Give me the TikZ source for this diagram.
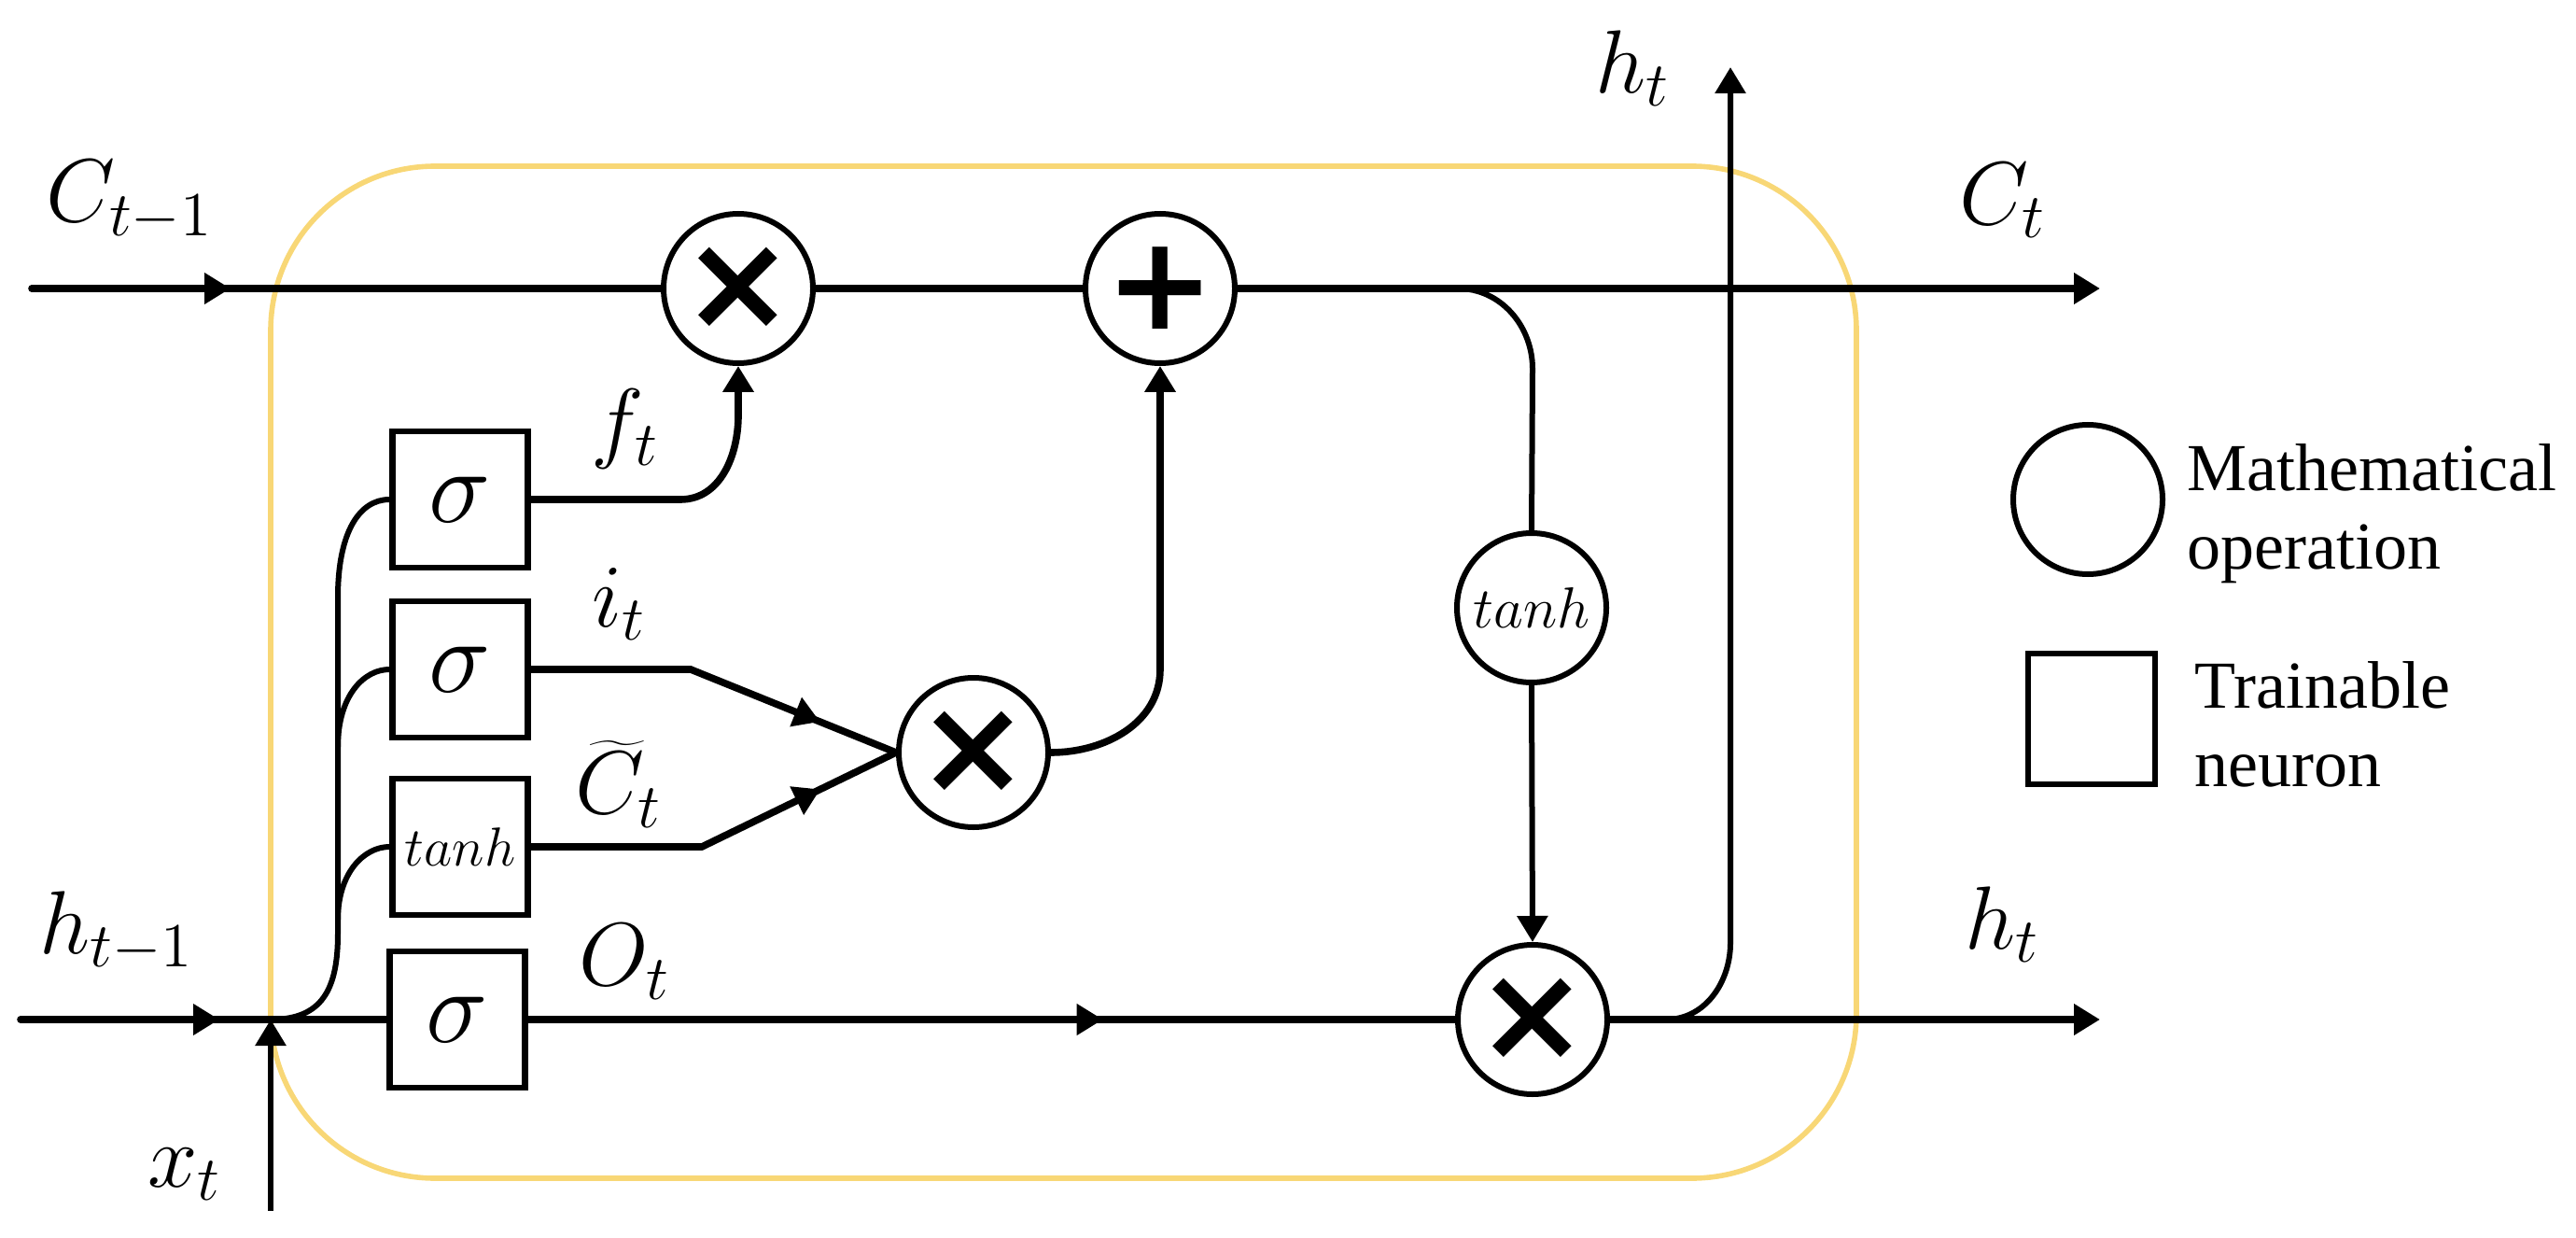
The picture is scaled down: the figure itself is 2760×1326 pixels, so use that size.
\RequirePackage{fix-cm}
\documentclass[tikz,border=0pt]{standalone}
\usepackage{fontspec}
\setmainfont{Liberation Serif}
\newfontfamily\legendserif{Liberation Serif}
\newfontfamily\opglyphfont{DejaVu Sans}
\usetikzlibrary{arrows.meta,decorations.markings}
\definecolor{cellgold}{RGB}{248,215,118}
\newcommand\mulsym{{\opglyphfont\bfseries\fontsize{36}{36}\selectfont ×}}
\newcommand\plussym{{\opglyphfont\bfseries\fontsize{35}{35}\selectfont +}}
\begin{document}
\begin{tikzpicture}[x=0.25pt,y=-0.25pt,
  wire/.style={line width=1.9pt,line cap=round},
  thinwire/.style={line width=1.5pt},
  tip/.style={-{Triangle[length=7pt,width=8pt]}},
  midtip/.style={postaction={decorate},decoration={markings,mark=at position #1 with {\arrow{Triangle[length=7pt,width=8pt]}}}},
  op/.style={circle,draw,line width=1.5pt,minimum size=40pt,inner sep=0pt,fill=white},
  neuron/.style={rectangle,draw,line width=1.6pt,minimum width=36.25pt,minimum height=36.5pt,inner sep=0pt,fill=white},
  lbl/.style={inner sep=0pt,font=\fontsize{24}{28}\selectfont},
  legendtext/.style={inner sep=0pt,anchor=west,align=left,font=\legendserif\fontsize{18}{21}\selectfont},
]
\useasboundingbox (0,0) rectangle (2760,1326);

% cell outline
\node[draw=cellgold,line width=1.4pt,rounded corners=44pt,minimum width=424.75pt,minimum height=271pt,inner sep=0pt] (cell) at (1139.5,720) {};

% operations
\node[op] (mulf) at (791,309) {\mulsym};
\node[op] (plus) at (1243,309) {\plussym};
\node[op] (mulc) at (1043,806) {\mulsym};
\node[op] (tanhc) at (1641,651) {\fontsize{15.5}{17}\selectfont$tanh$};
\node[op] (mulo) at (1642,1092) {\mulsym};

% neurons
\node[neuron,font=\fontsize{28}{30}\selectfont] (bf) at (493,535) {$\sigma$};
\node[neuron,font=\fontsize{28}{30}\selectfont] (bi) at (493,717) {$\sigma$};
\node[neuron,font=\fontsize{14.7}{16}\selectfont] (bc) at (493,907) {$tanh$};
\node[neuron,font=\fontsize{28}{30}\selectfont] (bo) at (490,1092) {$\sigma$};

% legend
\node[op] (legop) at (2237,535) {};
\node[neuron,minimum width=34pt,minimum height=35pt] (legnr) at (2241,770) {};
\node[legendtext] (legoptxt) at (2343,550) {Mathematical\\operation};
\node[legendtext] (legnrtxt) at (2351,776) {Trainable\\neuron};

% labels
\node[lbl] (lc0) at (139,215) {$C_{t-1}$};
\node[lbl] (lf) at (670,460) {$f_t$};
\node[lbl] (li) at (663,647) {$i_t$};
\node[lbl] (lct) at (663,840) {$\widetilde{C}_t$};
\node[lbl] (lo) at (669,1030) {$O_t$};
\node[lbl] (lh0) at (125,998) {$h_{t-1}$};
\node[lbl] (lx) at (198,1258) {$x_t$};
\node[lbl] (lhtop) at (1749,73) {$h_t$};
\node[lbl] (lc) at (2146,215) {$C_t$};
\node[lbl] (lh) at (2145,990) {$h_t$};

% free ends and branch points
\coordinate (cin) at (34,309);
\coordinate (cout) at (2250,309);
\coordinate (hin) at (22,1092);
\coordinate (jn) at (290,1092);
\coordinate (xin) at (290,1297);
\coordinate (hout) at (2250,1092);
\coordinate (htop) at (1854,72);
\coordinate (cbr) at (1562,309);
\coordinate (hbr) at (1785,1092);
\coordinate (ibend) at (740,717);
\coordinate (cbend) at (752,907);
\coordinate (busA) at (362,800);
\coordinate (busB) at (362,985);

% cell state line
\draw[wire,midtip=53.25pt] (cin) -- (mulf);
\draw[wire] (mulf) -- (plus);
\draw[wire,tip] (plus) -- (cout);

% forget gate
\draw[wire,tip] (bf.east) -- (729,535) to[out=0,in=-90] (791,445) -- (mulf.south);

% input gate and candidate
\draw[wire] (bi.east) -- (ibend);
\draw[wire,midtip=0.63] (ibend) -- (mulc.west);
\draw[wire] (bc.east) -- (cbend);
\draw[wire,midtip=0.61] (cbend) -- (mulc.west);
\draw[wire,tip] (mulc.east) to[out=0,in=-90] (1243,717) -- (plus.south);

% tanh branch
\draw[thinwire] (cbr) to[out=0,in=90] (1642,395) -- (tanhc.north);
\draw[thinwire,tip] (tanhc.south) -- (mulo.north);

% hidden / input lines
\draw[wire,midtip=53.25pt] (hin) -- (jn);
\draw[wire] (jn) -- (bo.west);
\draw[thinwire,tip] (xin) -- (jn);
\draw[wire,midtip=154pt] (bo.east) -- (mulo.west);
\draw[wire,tip] (mulo.east) -- (hout);
\draw[thinwire,tip] (hbr) to[out=0,in=-90] (1854,1010) -- (htop);

% input bus
\draw[thinwire] (jn) .. controls (345,1092) and (362,1060) .. (362,1000) -- (362,640) .. controls (362,570) and (385,535) .. (bf.west);
\draw[thinwire] (busA) .. controls (362,745) and (390,717) .. (bi.west);
\draw[thinwire] (busB) .. controls (362,935) and (390,907) .. (bc.west);
\end{tikzpicture}
\end{document}
